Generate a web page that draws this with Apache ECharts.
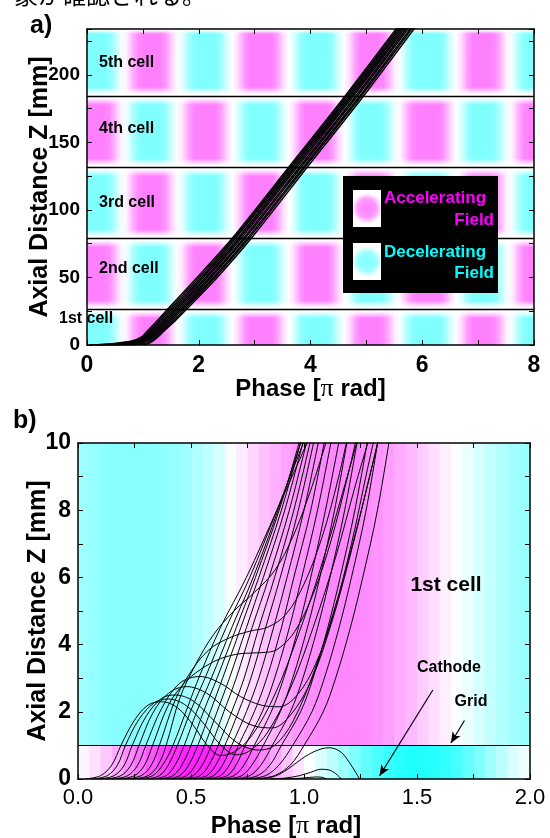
<!DOCTYPE html>
<html>
<head>
<meta charset="utf-8">
<script src="https://cdn.jsdelivr.net/npm/echarts@6/dist/echarts.min.js"></script>
<style>
html, body { margin: 0; padding: 0; background: #fff; }
#chart { width: 550px; height: 838px; }
</style>
</head>
<body>
<div id="chart"></div>
<script>
// ---------- a) five cells ----------
const cellEdges = [0, 26.4, 79, 131.6, 184.4, 237];          // mm
const cellNames = ['1st cell', '2nd cell', '3rd cell', '4th cell', '5th cell'];
const cellSign = [1, -1, 1, -1, 1];                            // field flips from cell to cell
const stepA = 0.1;                                             // pi rad between samples
// field along the phase, sampled every 0.1 pi (+ accelerating / - decelerating)
const fieldA = [
  -0.5, -0.5, -0.5, -0.5, -0.45, -0.28, -0.05, 0.05, 0.28, 0.45,
  0.5, 0.5, 0.5, 0.5, 0.41, 0.2, 0.02, -0.1, -0.34, -0.48,
  -0.5, -0.5, -0.5, -0.5, -0.38, -0.15, 0, 0.15, 0.38, 0.5,
  0.5, 0.5, 0.5, 0.5, 0.38, 0.15, 0, -0.15, -0.38, -0.5,
  -0.5, -0.5, -0.5, -0.5, -0.38, -0.15, 0, 0.15, 0.38, 0.5,
  0.5, 0.5, 0.5, 0.46, 0.3, 0.07, -0.04, -0.26, -0.44, -0.5,
  -0.5, -0.5, -0.5, -0.5, -0.38, -0.15, 0, 0.15, 0.38, 0.5,
  0.5, 0.5, 0.5, 0.45, 0.28, 0.05, -0.05, -0.28, -0.45, -0.5,
  -0.5
];
// electron bundle: phase of each track at these distances
const bundleZ = [0, 1, 3, 6, 10, 18, 26.4, 50, 79, 131.6, 184.4, 240];
const bundlePhase = [
  [0.05, 0.45, 0.80, 0.98, 1.07, 1.255, 1.44, 1.97, 2.60, 3.61, 4.62, 5.64],
  [0.15, 0.52, 0.84, 1.00, 1.10, 1.29, 1.475, 2.01, 2.63, 3.64, 4.65, 5.67],
  [0.25, 0.58, 0.87, 1.02, 1.13, 1.32, 1.51, 2.05, 2.66, 3.67, 4.68, 5.70],
  [0.35, 0.65, 0.90, 1.05, 1.16, 1.36, 1.545, 2.08, 2.70, 3.70, 4.71, 5.73],
  [0.45, 0.72, 0.93, 1.08, 1.19, 1.39, 1.58, 2.12, 2.73, 3.73, 4.74, 5.76],
  [0.55, 0.78, 0.96, 1.10, 1.22, 1.42, 1.61, 2.15, 2.76, 3.76, 4.77, 5.79],
  [0.65, 0.84, 0.99, 1.13, 1.25, 1.45, 1.645, 2.19, 2.80, 3.80, 4.81, 5.82],
  [0.75, 0.90, 1.03, 1.16, 1.28, 1.48, 1.68, 2.22, 2.83, 3.83, 4.84, 5.85],
  [0.85, 0.97, 1.08, 1.20, 1.31, 1.515, 1.71, 2.26, 2.87, 3.87, 4.88, 5.89],
  [0.95, 1.04, 1.13, 1.24, 1.34, 1.55, 1.745, 2.29, 2.90, 3.90, 4.91, 5.92],
  [1.02, 1.10, 1.18, 1.27, 1.37, 1.58, 1.78, 2.33, 2.94, 3.94, 4.95, 5.96]
];

// ---------- b) first cell close up ----------
const gridZ = 1;        // mm, grid position
const zMaxB = 10;
const stepB = 0.05;
const fieldCell = [
  -0.38, -0.42, -0.45, -0.47, -0.47, -0.47, -0.46, -0.44, -0.41, -0.37,
  -0.31, -0.25, -0.16, -0.03, 0.08, 0.16, 0.24, 0.31, 0.37, 0.41,
  0.44, 0.46, 0.47, 0.47, 0.47, 0.45, 0.42, 0.38, 0.33, 0.27,
  0.2, 0.13, 0.06, -0.01, -0.08, -0.16, -0.23, -0.3, -0.36, -0.4
];
const fieldGap = [
  0.04, 0.12, 0.22, 0.33, 0.45, 0.56, 0.66, 0.75, 0.82, 0.86,
  0.87, 0.86, 0.82, 0.76, 0.68, 0.58, 0.47, 0.35, 0.23, 0.11,
  -0.02, -0.14, -0.26, -0.38, -0.5, -0.61, -0.7, -0.78, -0.84, -0.87,
  -0.87, -0.85, -0.8, -0.72, -0.62, -0.5, -0.38, -0.26, -0.15, -0.06
];
// tracks that hump in the decelerating field: [phase, z]
const humpTracks = [
  [[.03,0],[.10,.1],[.15,.42],[.19,1],[.25,1.75],[.31,2.2],[.37,2.3],[.44,2.12],[.51,1.6],[.57,1.02],[.63,.70],[.69,.80],[.77,1.3],[.87,2.5],[.97,4.2],[1.07,6.2],[1.17,8.5],[1.25,10.4]],
  [[.06,0],[.13,.1],[.175,.42],[.21,1],[.27,1.78],[.34,2.28],[.40,2.38],[.48,2.18],[.56,1.62],[.63,1.02],[.70,.72],[.76,.84],[.84,1.4],[.94,2.7],[1.04,4.5],[1.14,6.6],[1.23,8.8],[1.30,10.4]],
  [[.09,0],[.16,.1],[.205,.42],[.24,1],[.30,1.85],[.37,2.4],[.43,2.5],[.51,2.32],[.60,1.75],[.70,1.1],[.80,.86],[.87,1.0],[.95,1.7],[1.05,3.3],[1.15,5.4],[1.25,7.9],[1.34,10.4]],
  [[.12,0],[.19,.1],[.235,.42],[.27,1],[.33,1.95],[.40,2.55],[.48,2.75],[.57,2.55],[.67,2.0],[.77,1.6],[.86,1.52],[.94,1.9],[1.03,2.9],[1.12,4.6],[1.21,6.8],[1.29,9.0],[1.34,10.4]],
  [[.15,0],[.22,.1],[.265,.42],[.30,1],[.37,2.1],[.45,2.85],[.54,3.05],[.63,2.85],[.72,2.45],[.81,2.2],[.89,2.15],[.97,2.5],[1.05,3.4],[1.13,4.9],[1.21,7.0],[1.28,9.2],[1.32,10.4]],
  [[.18,0],[.25,.1],[.295,.42],[.33,1],[.40,2.2],[.47,2.85],[.54,3.25],[.63,3.58],[.73,3.74],[.81,3.76],[.88,3.85],[.96,4.4],[1.04,5.5],[1.12,7.1],[1.20,9.2],[1.24,10.4]],
  [[.21,0],[.28,.1],[.325,.42],[.36,1],[.43,2.35],[.50,3.2],[.58,3.85],[.67,4.2],[.76,4.4],[.84,4.52],[.92,4.9],[1.0,5.8],[1.08,7.2],[1.15,8.9],[1.20,10.4]],
  [[.24,0],[.31,.1],[.355,.42],[.39,1],[.45,2.4],[.52,3.4],[.60,4.3],[.69,5.0],[.78,5.55],[.87,6.2],[.95,7.2],[1.03,8.6],[1.115,10.4]]
];
// tracks that go straight through
const passTracks = [
  [[.27,0],[.33,.1],[.375,.42],[.42,1],[.48,2.05],[.54,3.1],[.63,4.5],[.745,6],[.88,8],[1.04,10.4]],
  [[.30,0],[.36,.1],[.40,.42],[.44,1],[.50,2.05],[.565,3.05],[.655,4.5],[.76,6],[.88,8],[1.02,10.4]],
  [[.33,0],[.39,.1],[.43,.42],[.47,1],[.525,2],[.59,3],[.68,4.5],[.775,6],[.885,8],[1.005,10.4]],
  [[.36,0],[.42,.1],[.46,.42],[.50,1],[.555,2],[.615,3],[.70,4.5],[.785,6],[.89,8],[.995,10.4]],
  [[.39,0],[.45,.1],[.49,.42],[.53,1],[.585,2],[.64,3],[.72,4.5],[.80,6],[.90,8],[1.0,10.4]],
  [[.42,0],[.48,.1],[.52,.42],[.56,1],[.615,2],[.67,3],[.745,4.5],[.82,6],[.915,8],[1.01,10.4]],
  [[.45,0],[.51,.1],[.55,.42],[.59,1],[.645,2],[.70,3],[.77,4.5],[.845,6],[.935,8],[1.025,10.4]],
  [[.48,0],[.54,.1],[.58,.42],[.62,1],[.68,2],[.735,3],[.80,4.5],[.87,6],[.955,8],[1.04,10.4]],
  [[.51,0],[.57,.1],[.61,.42],[.65,1],[.71,2],[.765,3],[.83,4.5],[.895,6],[.975,8],[1.055,10.4]],
  [[.54,0],[.60,.1],[.64,.42],[.68,1],[.745,2],[.80,3],[.865,4.5],[.925,6],[1.0,8],[1.075,10.4]],
  [[.57,0],[.63,.1],[.67,.42],[.71,1],[.78,2],[.835,3],[.90,4.5],[.955,6],[1.03,8],[1.10,10.4]],
  [[.60,0],[.66,.1],[.70,.42],[.74,1],[.815,2],[.87,3],[.935,4.5],[.99,6],[1.06,8],[1.13,10.4]],
  [[.63,0],[.69,.1],[.735,.42],[.78,1],[.855,2],[.91,3],[.975,4.5],[1.03,6],[1.095,8],[1.165,10.4]],
  [[.66,0],[.725,.1],[.77,.42],[.82,1],[.895,2],[.95,3],[1.015,4.5],[1.07,6],[1.135,8],[1.20,10.4]],
  [[.69,0],[.76,.1],[.81,.42],[.86,1],[.94,2],[.995,3],[1.06,4.5],[1.115,6],[1.18,8],[1.245,10.4]],
  [[.72,0],[.795,.1],[.85,.42],[.90,1],[.985,2],[1.04,3],[1.105,4.5],[1.16,6],[1.225,8],[1.29,10.4]],
  [[.75,0],[.83,.1],[.89,.42],[.95,1],[1.035,2],[1.09,3],[1.155,4.5],[1.21,6],[1.275,8],[1.335,10.4]],
  [[.78,0],[.87,.1],[.94,.42],[1.0,1],[1.085,2],[1.14,3],[1.205,4.5],[1.26,6],[1.325,8],[1.385,10.4]]
];
// tracks that fall back onto the cathode
const fallTracks = [
  [[.81,0],[.87,.08],[.93,.3],[.99,.6],[1.05,.83],[1.11,.93],[1.16,.82],[1.20,.5],[1.246,0]],
  [[.85,0],[.92,.03],[.98,.1],[1.03,.2],[1.075,.29],[1.11,.27],[1.14,.16],[1.165,0]],
  [[.89,0],[.95,.01],[1.0,.03],[1.05,.06],[1.08,.05],[1.10,0]]
];
const cathodeArrow = [[1.57, 2.65], [1.334, 0.09]];
const gridArrow = [[1.71, 1.74], [1.65, 1.07]];

// ---------- build ----------
const FONT = '"Liberation Sans", Arial, Helvetica, sans-serif';
const SERIF = '"Liberation Serif", "DejaVu Serif", serif';
const fieldColors = ['#00ffff', '#ffffff', '#ff00ff'];
function fieldColor(v) {
  return echarts.color.lerp((v + 1) / 2, fieldColors);
}

const bandA = [];
for (let c = 0; c < cellSign.length; c++) {
  for (let i = 0; i < fieldA.length - 1; i++) {
    bandA.push([i * stepA, (i + 1) * stepA, cellEdges[c], cellEdges[c + 1],
      cellSign[c] * fieldA[i], cellSign[c] * fieldA[i + 1]]);
  }
}
const bandB = [];
for (let i = 0; i < fieldCell.length; i++) {
  bandB.push([i * stepB, (i + 1) * stepB, gridZ, zMaxB, fieldCell[i], fieldCell[i]]);
  bandB.push([i * stepB, (i + 1) * stepB, 0, gridZ, fieldGap[i], fieldGap[i]]);
}

function renderBand(params, api) {
  const p0 = api.coord([api.value(0), api.value(3)]);
  const p1 = api.coord([api.value(1), api.value(2)]);
  const cs = params.coordSys;
  const shape = echarts.graphic.clipRectByRect(
    {x: p0[0], y: p0[1], width: p1[0] - p0[0] + 0.8, height: p1[1] - p0[1]},
    {x: cs.x, y: cs.y, width: cs.width, height: cs.height});
  if (!shape) return;
  return {
    type: 'rect', shape: shape,
    style: {fill: new echarts.graphic.LinearGradient(0, 0, 1, 0, [
      {offset: 0, color: fieldColor(api.value(4))},
      {offset: 1, color: fieldColor(api.value(5))}
    ])}
  };
}

// white fade at the cell walls
function renderFade(params, api) {
  const y = api.coord([0, api.value(0)])[1];
  const cs = params.coordSys;
  const box = {x: cs.x, y: cs.y, width: cs.width, height: cs.height};
  const kids = [];
  const below = echarts.graphic.clipRectByRect({x: cs.x, y: y, width: cs.width, height: 9}, box);
  const above = echarts.graphic.clipRectByRect({x: cs.x, y: y - 9, width: cs.width, height: 9}, box);
  if (below) kids.push({type: 'rect', shape: below, style: {fill: new echarts.graphic.LinearGradient(0, 0, 0, 1, [
    {offset: 0, color: 'rgba(255,255,255,1)'}, {offset: 0.3, color: 'rgba(255,255,255,0.9)'}, {offset: 1, color: 'rgba(255,255,255,0)'}])}});
  if (above) kids.push({type: 'rect', shape: above, style: {fill: new echarts.graphic.LinearGradient(0, 0, 0, 1, [
    {offset: 0, color: 'rgba(255,255,255,0)'}, {offset: 0.7, color: 'rgba(255,255,255,0.9)'}, {offset: 1, color: 'rgba(255,255,255,1)'}])}});
  return {type: 'group', children: kids};
}

function frameAxis(gridIndex, pos, min, max, interval, label) {
  return {
    type: 'value', gridIndex: gridIndex, position: pos, min: min, max: max, interval: interval, z: 10,
    axisLine: {show: true, onZero: false, lineStyle: {color: '#000', width: 1.5}},
    axisTick: {show: true, inside: true, length: 5, lineStyle: {color: '#000', width: 1}},
    splitLine: {show: false},
    minorTick: {show: false},
    axisLabel: label || {show: false},
    nameMoveOverlap: false
  };
}

function track(points, xi, yi, smooth) {
  return {
    type: 'line', xAxisIndex: xi, yAxisIndex: yi, data: points,
    showSymbol: false, symbol: 'none', smooth: smooth, silent: true, z: 4,
    lineStyle: {color: '#000', width: 1}
  };
}

const axX0 = frameAxis(0, 'bottom', 0, 8, 1, {
  show: true, color: '#000', fontFamily: FONT, fontWeight: 'bold', fontSize: 23, margin: 9,
  formatter: v => (v % 2 === 0 ? String(v) : '')
});
axX0.name = 'Phase [{pi|π} rad]';
axX0.nameLocation = 'middle';
axX0.nameGap = 31;
axX0.nameTextStyle = {color: '#000', fontFamily: FONT, fontWeight: 'bold', fontSize: 24,
  rich: {pi: {fontFamily: SERIF, fontSize: 26, fontWeight: 'normal', color: '#000'}}};

const axY0 = frameAxis(0, 'left', 0, 234, 25, {
  show: true, color: '#000', fontFamily: FONT, fontWeight: 'bold', fontSize: 19, margin: 7,
  formatter: v => (v % 50 === 0 ? String(v) : '')
});
axY0.name = 'Axial Distance Z [mm]';
axY0.nameLocation = 'middle';
axY0.nameRotate = 90;
axY0.nameGap = 34;
axY0.nameTextStyle = {color: '#000', fontFamily: FONT, fontWeight: 'bold', fontSize: 25};

const axX2 = frameAxis(1, 'bottom', 0, 2, 0.25, {
  show: true, color: '#000', fontFamily: FONT, fontWeight: 'normal', fontSize: 22, margin: 8,
  formatter: v => (Math.round(v * 100) % 50 === 0 ? v.toFixed(1) : '')
});
axX2.name = 'Phase [{pi|π} rad]';
axX2.nameLocation = 'middle';
axX2.nameGap = 34;
axX2.nameTextStyle = {color: '#000', fontFamily: FONT, fontWeight: 'bold', fontSize: 24, padding: [0, 36, 0, 0],
  rich: {pi: {fontFamily: SERIF, fontSize: 26, fontWeight: 'normal', color: '#000'}}};

const axY2 = frameAxis(1, 'left', 0, zMaxB, 1, {
  show: true, color: '#000', fontFamily: FONT, fontWeight: 'bold', fontSize: 23, margin: 7,
  formatter: v => (v % 2 === 0 ? String(v) : '')
});
axY2.name = 'Axial Distance Z [mm]';
axY2.nameLocation = 'middle';
axY2.nameRotate = 90;
axY2.nameGap = 27;
axY2.nameTextStyle = {color: '#000', fontFamily: FONT, fontWeight: 'bold', fontSize: 25};

const series = [
  {type: 'custom', name: 'field a', xAxisIndex: 0, yAxisIndex: 0, data: bandA, renderItem: renderBand, silent: true, z: 1},
  {type: 'custom', name: 'cell walls', xAxisIndex: 0, yAxisIndex: 0, data: cellEdges.slice(1).map(v => [v]), renderItem: renderFade, silent: true, z: 2},
  {type: 'custom', name: 'field b', xAxisIndex: 2, yAxisIndex: 2, data: bandB, renderItem: renderBand, silent: true, z: 1}
];

bundlePhase.forEach((ph, k) => {
  const s = track(bundleZ.map((z, i) => [ph[i], z]), 0, 0, 0.25);
  s.lineStyle.width = 1.5;
  if (k === 0) {
    s.markLine = {
      silent: true, symbol: ['none', 'none'], label: {show: false}, animation: false,
      lineStyle: {color: '#000', width: 1.3, type: 'solid'},
      data: cellEdges.slice(1, -1).map(v => ({yAxis: v}))
    };
  }
  series.push(s);
});

humpTracks.concat(passTracks, fallTracks).forEach((pts, k) => {
  const s = track(pts, 2, 2, 0.35);
  if (k === 0) {
    s.markLine = {
      silent: true, label: {show: false}, animation: false,
      lineStyle: {color: '#000', width: 1.2, type: 'solid'},
      data: [
        [{coord: [0, gridZ], symbol: 'none'}, {coord: [2, gridZ], symbol: 'none'}],
        [{coord: cathodeArrow[0], symbol: 'none'}, {coord: cathodeArrow[1], symbol: 'arrow', symbolSize: [7, 11]}],
        [{coord: gridArrow[0], symbol: 'none'}, {coord: gridArrow[1], symbol: 'arrow', symbolSize: [7, 11]}]
      ]
    };
  }
  series.push(s);
});

function label(text, x, y, size, opts) {
  const o = opts || {};
  return {
    type: 'text', x: x, y: y, z: 50,
    style: {
      text: text, fill: o.fill || '#000',
      font: (o.weight || 'bold') + ' ' + size + 'px ' + (o.family || FONT),
      align: o.align || 'left', verticalAlign: 'middle',
      textAlign: o.align || 'left', textVerticalAlign: 'middle'
    }
  };
}

const cellLabelY = [319, 269, 203, 129, 63];
const graphic = [
  label('象が確認される。', 14, -5, 24, {weight: 'normal', family: '"Noto Sans CJK JP", sans-serif'}),
  label('a)', 30, 26, 25),
  label('b)', 13, 421, 25),
  {type: 'rect', shape: {x: 343, y: 176, width: 155, height: 117}, style: {fill: '#000'}, z: 40},
  {type: 'rect', shape: {x: 353, y: 190, width: 28, height: 37}, style: {fill: new echarts.graphic.RadialGradient(0.5, 0.5, 0.55, [
    {offset: 0, color: '#ff80ff'}, {offset: 0.6, color: '#ff99ff'}, {offset: 1, color: '#ffffff'}])}, z: 41},
  {type: 'rect', shape: {x: 353, y: 243, width: 28, height: 37}, style: {fill: new echarts.graphic.RadialGradient(0.5, 0.5, 0.55, [
    {offset: 0, color: '#80ffff'}, {offset: 0.6, color: '#99ffff'}, {offset: 1, color: '#ffffff'}])}, z: 41},
  label('Accelerating', 384, 198, 17, {fill: '#ff00ff'}),
  label('Field', 494, 220, 17, {fill: '#ff00ff', align: 'right'}),
  label('Decelerating', 384, 252, 17, {fill: '#00ffff'}),
  label('Field', 494, 273, 17, {fill: '#00ffff', align: 'right'}),
  label('1st cell', 446, 585, 21, {align: 'center'}),
  label('Cathode', 449, 668, 16, {align: 'center'}),
  label('Grid', 471, 702, 16, {align: 'center'})
];
cellNames.forEach((n, i) => {
  graphic.push(label(n, i === 0 ? 59 : 99, cellLabelY[i], 16));
});

const chart = echarts.init(document.getElementById('chart'), null, {renderer: 'canvas'});
chart.setOption({
  animation: false,
  backgroundColor: '#fff',
  grid: [
    {left: 87, top: 29, right: 16, height: 316, outerBoundsMode: 'none'},
    {left: 78, top: 443, right: 20, height: 336, outerBoundsMode: 'none'}
  ],
  xAxis: [
    axX0,
    frameAxis(0, 'top', 0, 8, 1),
    axX2,
    frameAxis(1, 'top', 0, 2, 0.25)
  ],
  yAxis: [
    axY0,
    frameAxis(0, 'right', 0, 234, 25),
    axY2,
    frameAxis(1, 'right', 0, zMaxB, 1)
  ],
  graphic: graphic,
  series: series
});
</script>
</body>
</html>
